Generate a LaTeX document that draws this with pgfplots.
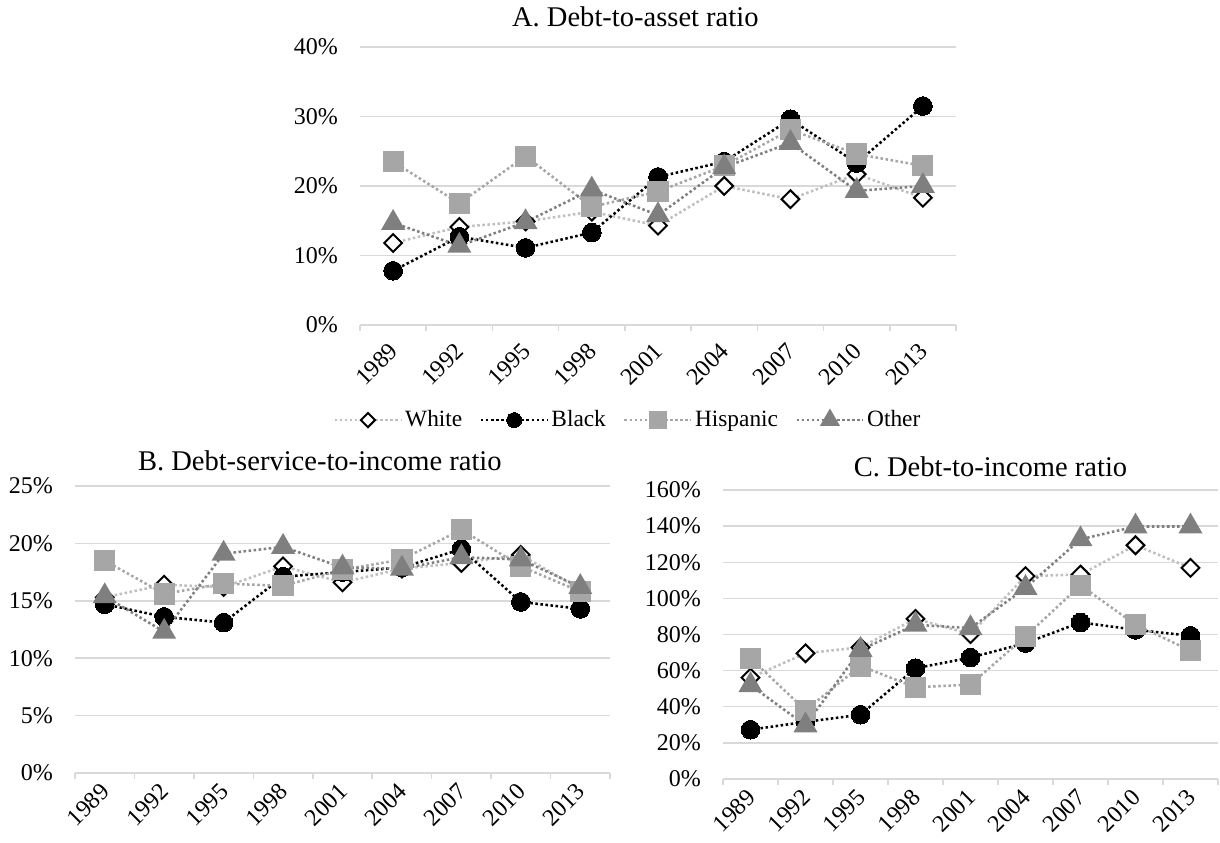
\documentclass[border=0pt]{standalone}
\usepackage{fontspec}
\setmainfont{Liberation Serif}
\usepackage{pgfplots}
\usepackage{pgfplotstable}
\pgfplotsset{compat=1.18}
\definecolor{gridc}{HTML}{D9D9D9}
\definecolor{lwhite}{HTML}{BFBFBF}
\definecolor{lhisp}{HTML}{A6A6A6}
\definecolor{loth}{HTML}{7F7F7F}

\pgfplotstableread{
x white black hisp other
1 11.8 7.8 23.5 14.7
2 14.1 12.7 17.5 11.4
3 14.9 11.1 24.3 14.8
4 16.3 13.3 17.0 19.5
5 14.3 21.3 19.2 15.8
6 20.0 23.5 22.9 22.7
7 18.1 29.6 28.1 26.2
8 21.7 23.3 24.6 19.3
9 18.3 31.5 22.9 20.0
}\dataA
\pgfplotstableread{
x white black hisp other
1 15.3 14.7 18.5 15.4
2 16.4 13.6 15.6 12.3
3 16.2 13.1 16.5 19.1
4 18.0 17.1 16.3 19.7
5 16.6 17.5 17.7 17.9
6 17.8 17.9 18.6 17.8
7 18.3 19.5 21.2 18.8
8 19.0 14.9 18.0 18.6
9 16.0 14.3 15.8 16.2
}\dataB
\pgfplotstableread{
x white black hisp other
1 56.1 27.3 66.8 52.0
2 69.6 31.6 38.1 29.7
3 72.9 35.6 62.6 71.5
4 88.7 61.3 50.7 85.4
5 80.2 67.2 52.3 83.5
6 112.3 75.2 78.9 105.8
7 113.2 86.7 107.3 132.7
8 129.4 82.6 85.4 139.8
9 116.9 79.3 71.1 139.8
}\dataC

\pgfplotsset{
 base/.style={
  scale only axis, clip=false,
  xmin=0.5, xmax=9.5, xtick={1,...,9},
  xticklabels={1989,1992,1995,1998,2001,2004,2007,2010,2013},
  minor xtick={0.5,1.5,...,9.5},
  axis x line*=bottom, axis y line*=left,
  y axis line style={draw=none},
  x axis line style={draw=gridc, line width=1.1pt},
  major tick length=0pt, minor tick length=4.5pt, tick align=outside,
  minor x tick style={draw=gridc, line width=1.1pt},
  ytick style={draw=none},
  ymajorgrids, major grid style={draw=gridc, line width=1.1pt},
  /pgf/number format/assume math mode=true,
  tick label style={font=\fontsize{18}{21}\selectfont},
  yticklabel={\pgfmathprintnumber{\tick}\%},
  yticklabel style={anchor=east, xshift=-10.5pt},
  xticklabel style={rotate=45, anchor=north east, inner sep=0pt, yshift=-5.9pt, xshift=-11.4pt},
  title style={font=\fontsize{21.4}{25}\selectfont, anchor=center, at={(0.5,1)}},
 },
 sW/.style={draw=lwhite, line width=1.9pt, dash pattern=on 1.9pt off 1.9pt,
   mark=square*, mark size=4.7pt, mark options={rotate=45, fill=white, draw=black, solid, line width=1.5pt}},
 sB/.style={draw=black, line width=1.9pt, dash pattern=on 1.9pt off 1.9pt,
   mark=*, mark size=7pt, mark options={solid, fill=black, draw=black, line width=0pt}},
 sH/.style={draw=lhisp, line width=1.9pt, dash pattern=on 1.9pt off 1.9pt,
   mark=square*, mark size=7pt, mark options={solid, fill=lhisp, draw=none}},
 sO/.style={draw=loth, line width=1.9pt, dash pattern=on 1.9pt off 1.9pt,
   mark=triangle*, mark size=8.5pt, mark options={solid, fill=loth, draw=none}},
}

\begin{document}
\fontsize{17.5}{21}\selectfont
\begin{tikzpicture}
\path[use as bounding box] (0,0) rectangle (915pt,631.5pt);
% Panel A
\begin{axis}[base, at={(270pt,387.75pt)}, anchor=south west, width=447pt, height=208.5pt,
  ymin=0, ymax=40, ytick={0,10,...,40},
  title={A. Debt-to-asset ratio}, title style={yshift=16.5pt, xshift=-17pt},
  legend style={at={(0.45,-0.342)}, anchor=center, draw=none, fill=none, legend columns=4,
    font=\fontsize{17.5}{21}\selectfont, /tikz/every even column/.append style={column sep=11pt}},
  legend image code/.code={\draw[mark repeat=2,mark phase=2,#1,every mark/.append style={scale=0.8}] plot coordinates {(0pt,0pt) (25pt,0pt) (50pt,0pt)};},
]
\addplot[sW] table[x=x,y=white]{\dataA};
\addplot[sB] table[x=x,y=black]{\dataA};
\addplot[sH] table[x=x,y=hisp]{\dataA};
\addplot[sO] table[x=x,y=other]{\dataA};
\legend{White,Black,Hispanic,Other}
\end{axis}
% Panel B
\begin{axis}[base, at={(56.25pt,51.75pt)}, anchor=south west, width=401.25pt, height=215.25pt,
  ymin=0, ymax=25, ytick={0,5,...,25},
  xticklabel style={yshift=4pt, xshift=4pt},
  title={B. Debt-service-to-income ratio}, title style={yshift=12.75pt, xshift=-17pt}]
\addplot[sW] table[x=x,y=white]{\dataB};
\addplot[sB] table[x=x,y=black]{\dataB};
\addplot[sH] table[x=x,y=hisp]{\dataB};
\addplot[sO] table[x=x,y=other]{\dataB};
\end{axis}
% Panel C
\begin{axis}[base, at={(542.25pt,47.25pt)}, anchor=south west, width=371.25pt, height=216.75pt,
  ymin=0, ymax=160, ytick={0,20,...,160},
  xticklabel style={yshift=4pt, xshift=4pt},
  title={C. Debt-to-income ratio}, title style={yshift=11.25pt, xshift=15pt}]
\addplot[sW] table[x=x,y=white]{\dataC};
\addplot[sB] table[x=x,y=black]{\dataC};
\addplot[sH] table[x=x,y=hisp]{\dataC};
\addplot[sO] table[x=x,y=other]{\dataC};
\end{axis}
\end{tikzpicture}
\end{document}
